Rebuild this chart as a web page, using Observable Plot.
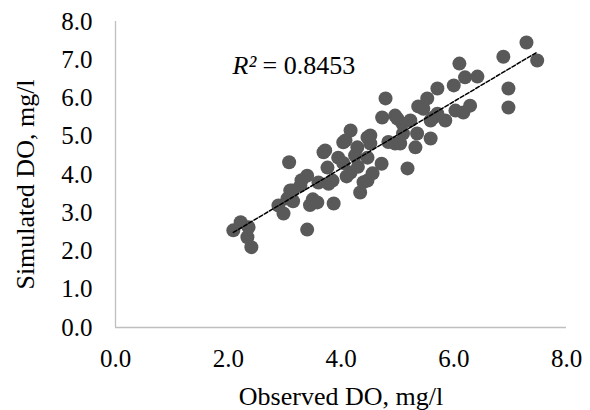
<!DOCTYPE html>
<html>
<head>
<meta charset="utf-8">
<script src="https://cdn.jsdelivr.net/npm/d3@7"></script>
<script src="https://cdn.jsdelivr.net/npm/@observablehq/plot@0.6"></script>
<style>
  html, body { margin: 0; padding: 0; background: #fff; }
  #chart svg, #chart svg text { font-family: "Liberation Serif", "Times New Roman", serif !important; }
</style>
</head>
<body>
<div id="chart"></div>
<script>
// Observed vs simulated dissolved oxygen (mg/l)
const observed = [
  2.09, 2.22, 2.36, 2.34, 2.41,
  2.89, 2.98, 3.05, 3.10, 3.14, 3.28, 3.40, 3.30, 3.40, 3.45, 3.50, 3.15, 3.08,
  3.58, 3.60, 3.69, 3.76, 3.78, 3.87, 3.85, 3.95, 4.04, 4.04, 4.10, 4.17, 4.17,
  4.29, 4.34, 4.40, 4.47, 4.47, 4.52, 4.52, 4.56, 4.25, 4.30, 4.08, 4.47, 3.72,
  4.72, 4.73, 4.79, 4.84, 4.96, 4.96, 5.00, 5.05, 5.09, 5.10, 5.18, 5.23, 5.32,
  5.35, 5.37, 5.46, 5.53,
  5.59, 5.59, 5.64, 5.71, 5.85, 5.71, 6.00, 6.03, 6.10, 6.17, 6.20, 6.29, 6.42,
  6.88, 6.97, 6.97, 7.29, 7.48
];
const simulated = [
  2.54, 2.75, 2.62, 2.36, 2.10,
  3.19, 2.98, 3.37, 3.58, 3.58, 3.71, 2.56, 3.85, 3.97, 3.20, 3.35, 3.30, 4.32,
  3.27, 3.79, 4.58, 4.18, 3.76, 3.24, 3.84, 4.44, 4.84, 4.30, 3.95, 5.15, 4.05,
  4.71, 3.53, 3.80, 4.44, 3.84, 5.02, 4.81, 4.03, 4.50, 4.20, 4.89, 4.97, 4.63,
  4.28, 5.49, 5.99, 4.85, 5.54, 4.81, 5.46, 4.81, 5.33, 5.07, 4.16, 5.41, 4.71,
  5.07, 5.78, 5.72, 5.99,
  4.94, 5.41, 5.49, 6.25, 5.41, 5.59, 6.33, 5.67, 6.90, 5.62, 6.54, 5.80, 6.56,
  7.08, 6.25, 5.75, 7.45, 6.98
];
const xTicks = [0, 2, 4, 6, 8];
const yTicks = [0, 1, 2, 3, 4, 5, 6, 7, 8];
const xTitle = "Observed DO, mg/l";
const yTitle = "Simulated DO, mg/l";
const r2Symbol = "R²";
const r2Value = "= 0.8453";

const data = observed.map((o, i) => ({observed: o, simulated: simulated[i]}));

const serif = "'Liberation Serif', 'Times New Roman', serif";
const chart = Plot.plot({
  width: 590,
  height: 410,
  marginLeft: 115,
  marginRight: 24,
  marginTop: 21,
  marginBottom: 83,
  style: {fontFamily: serif, fontSize: "25px", color: "#000", background: "#fff"},
  x: {domain: [0, 8], ticks: xTicks, tickFormat: d3.format(".1f"), tickSize: 0, tickPadding: 22, label: null},
  y: {domain: [0, 8], ticks: yTicks, tickFormat: d3.format(".1f"), tickSize: 0, tickPadding: 23, label: null},
  marks: [
    Plot.ruleX([0], {stroke: "#bfbfbf", strokeWidth: 1.3}),
    Plot.ruleY([0], {stroke: "#bfbfbf", strokeWidth: 1.3}),
    Plot.dot(data, {x: "observed", y: "simulated", r: 7, fill: "#595959", stroke: "none"}),
    Plot.linearRegressionY(data, {x: "observed", y: "simulated", stroke: "#000", strokeWidth: 1.5, strokeDasharray: "4,2", ci: 0}),
    Plot.text([r2Symbol], {text: d => d, frameAnchor: "top-left", textAnchor: "start", lineAnchor: "bottom", dx: 117, dy: 52, fontSize: 26, fontStyle: "italic", fontFamily: serif}),
    Plot.text([r2Value], {text: d => d, frameAnchor: "top-left", textAnchor: "start", lineAnchor: "bottom", dx: 147, dy: 52, fontSize: 26, fontFamily: serif}),
    Plot.text([xTitle], {text: d => d, frameAnchor: "bottom", textAnchor: "middle", lineAnchor: "middle", dy: 69, fontSize: 26, fontFamily: serif}),
    Plot.text([yTitle], {text: d => d, frameAnchor: "left", textAnchor: "middle", lineAnchor: "middle", rotate: -90, dx: -90, dy: 10, fontSize: 26, fontFamily: serif})
  ]
});
document.getElementById("chart").appendChild(chart);
</script>
</body>
</html>
